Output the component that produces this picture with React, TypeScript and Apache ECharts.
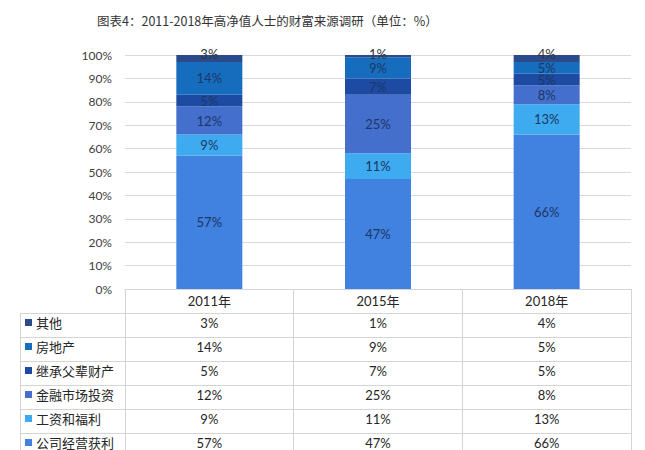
import React, { useEffect, useRef } from "react";
import * as echarts from "echarts";

const title = "图表4：2011-2018年高净值人士的财富来源调研（单位：%）";
const categories = ["2011年", "2015年", "2018年"];

// bottom to top of each stacked bar
const profit = [57, 47, 66]; // 公司经营获利
const salary = [9, 11, 13]; // 工资和福利
const finance = [12, 25, 8]; // 金融市场投资
const inherit = [5, 7, 5]; // 继承父辈财产
const realEstate = [14, 9, 5]; // 房地产
const other = [3, 1, 4]; // 其他

const stackNames = ["公司经营获利", "工资和福利", "金融市场投资", "继承父辈财产", "房地产", "其他"];
const stackValues = [profit, salary, finance, inherit, realEstate, other];
const stackColors = ["#4181e0", "#3eaaef", "#456fcc", "#1d4ba3", "#176dbd", "#2b4a8a"];

// table rows, top to bottom
const tableNames = ["其他", "房地产", "继承父辈财产", "金融市场投资", "工资和福利", "公司经营获利"];
const tableValues = [other, realEstate, inherit, finance, salary, profit];

const yMin = 0;
const yMax = 100;
const yStep = 10;

const LATIN = "Lato, 'Noto Sans CJK SC', sans-serif";
const CJK = "'Noto Sans CJK SC', sans-serif";
const LINE = "#d4d4d4";

export default function App() {
  const ref = useRef<HTMLDivElement>(null);

  useEffect(() => {
    if (!ref.current) return;
    const chart = echarts.init(ref.current, undefined, { renderer: "svg" });

    const gridLeft = 125;
    const gridRight = 631;
    const gridTop = 55;
    const gridBottom = 289;
    const rowH = 24;
    const firstRowTop = 313;
    const textShift = -2.5;

    const xAxes: any[] = [
      {
        type: "category",
        data: categories,
        gridIndex: 0,
        position: "bottom",
        axisLine: { show: true, lineStyle: { color: LINE, width: 1 } },
        axisTick: { show: true, alignWithLabel: false, length: 170, lineStyle: { color: LINE, width: 1 } },
        axisLabel: {
          interval: 0,
          margin: 12,
          verticalAlign: "middle",
          fontSize: 13,
          color: "#262626",
          fontFamily: LATIN,
        },
      },
    ];
    tableValues.forEach((vals, i) => {
      xAxes.push({
        type: "category",
        data: categories,
        gridIndex: 0,
        position: "bottom",
        axisLine: { show: false },
        axisTick: { show: false },
        splitLine: { show: false },
        axisLabel: {
          interval: 0,
          margin: firstRowTop - gridBottom + rowH / 2 + i * rowH + textShift,
          verticalAlign: "middle",
          fontSize: 13,
          color: "#262626",
          fontFamily: LATIN,
          formatter: (_v: string, idx: number) => vals[idx] + "%",
        },
      });
    });

    const graphics: any[] = [];
    for (let i = 0; i < tableNames.length; i++) {
      const y = firstRowTop + i * rowH + 0.5;
      graphics.push({
        type: "line",
        shape: { x1: 20, y1: y, x2: gridRight, y2: y },
        style: { stroke: LINE, lineWidth: 1 },
        silent: true,
      });
      const cy = firstRowTop + i * rowH + rowH / 2 + textShift;
      const colorIdx = stackNames.indexOf(tableNames[i]);
      graphics.push({
        type: "rect",
        shape: { x: 25, y: cy - 3.5, width: 7, height: 7 },
        style: { fill: stackColors[colorIdx] },
        silent: true,
      });
      graphics.push({
        type: "text",
        x: 36,
        y: cy,
        style: {
          text: tableNames[i],
          fontSize: 13,
          fontFamily: CJK,
          fill: "#262626",
          verticalAlign: "middle",
          align: "left",
        },
        silent: true,
      });
    }
    graphics.push({
      type: "line",
      shape: { x1: 20.5, y1: firstRowTop, x2: 20.5, y2: 460 },
      style: { stroke: LINE, lineWidth: 1 },
      silent: true,
    });

    chart.setOption({
      animation: false,
      title: {
        text: title,
        left: 92,
        top: 9,
        textStyle: { fontSize: 12.5, fontWeight: "normal", color: "#333", fontFamily: CJK },
      },
      grid: {
        left: gridLeft,
        right: 645 - gridRight,
        top: gridTop,
        bottom: 450 - gridBottom,
        containLabel: false,
      },
      xAxis: xAxes,
      yAxis: {
        type: "value",
        min: yMin,
        max: yMax,
        interval: yStep,
        axisLine: { show: false },
        axisTick: { show: false },
        splitLine: { lineStyle: { color: "#d9d9d9", width: 1 } },
        axisLabel: {
          formatter: "{value}%",
          margin: 13,
          fontSize: 12,
          color: "#404040",
          fontFamily: LATIN,
        },
      },
      graphic: graphics,
      series: stackNames.map((name, i) => {
        const isTop = i === stackNames.length - 1;
        return {
          name,
          type: "bar",
          stack: "total",
          xAxisIndex: 0,
          barWidth: 66,
          data: stackValues[i],
          itemStyle: { color: stackColors[i] },
          emphasis: { disabled: true },
          label: {
            show: true,
            position: isTop ? "top" : "inside",
            distance: isTop ? -5 : 5,
            formatter: "{c}%",
            color: isTop ? "#333" : "#1c3766",
            fontSize: 13,
            fontFamily: LATIN,
          },
        };
      }),
    });

    return () => chart.dispose();
  }, []);

  return (
    <div
      ref={ref}
      style={{ position: "fixed", left: 0, top: 0, width: 645, height: 450, background: "#fff" }}
    />
  );
}
